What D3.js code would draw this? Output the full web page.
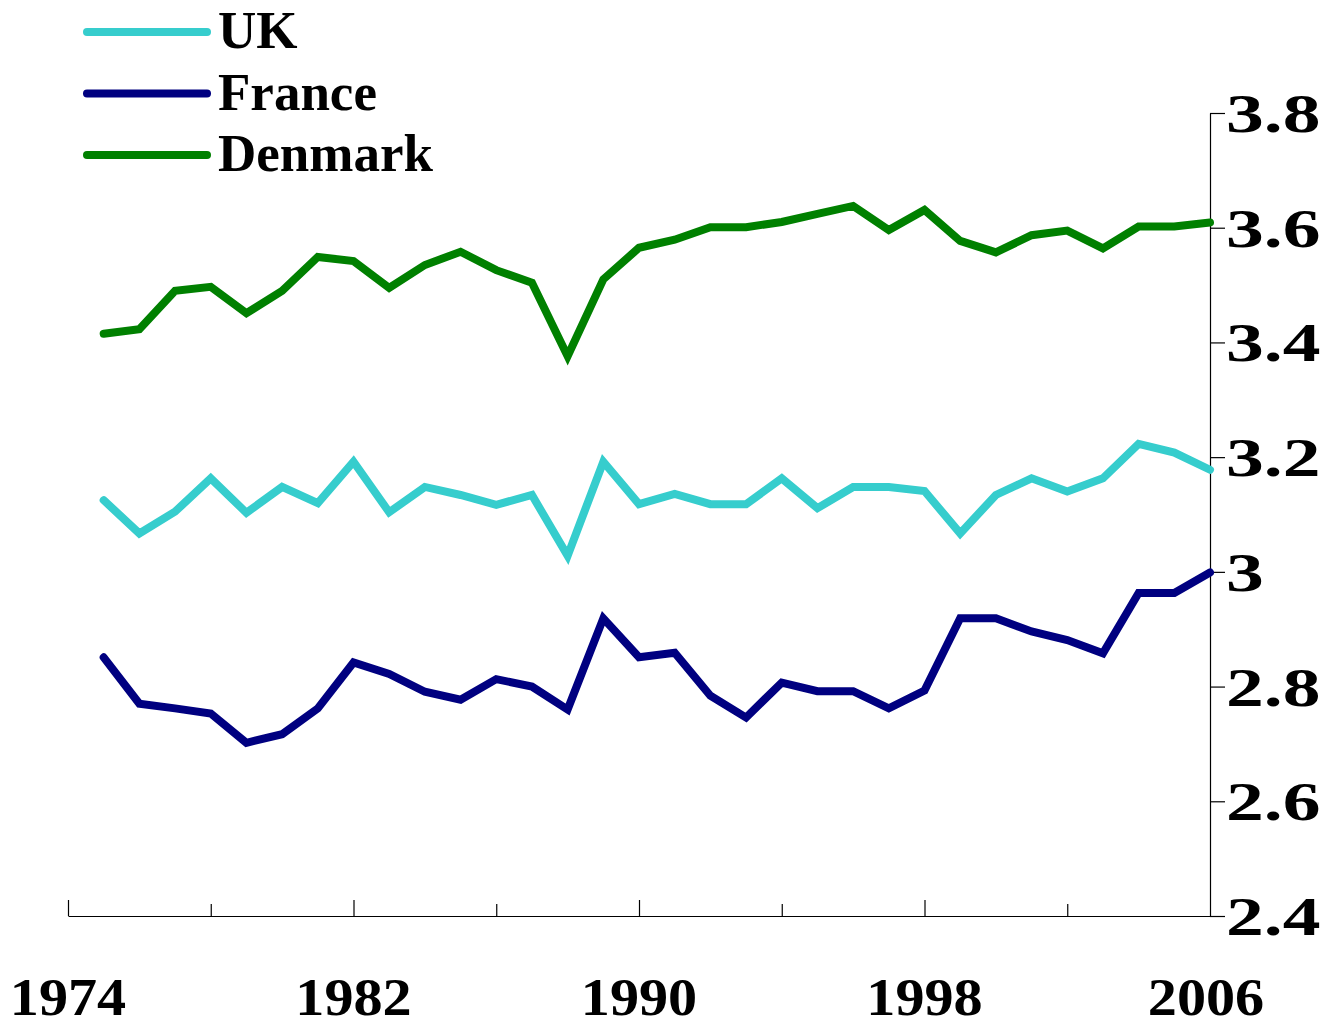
<!DOCTYPE html>
<html>
<head>
    <title>UK, France, Denmark 1975-2006</title>
    <script src="https://d3js.org/d3.v7.min.js"></script>
    <style>
        body {
            margin: 0;
            padding: 0;
            background: #fff;
        }
        svg text {
            font-family: "Liberation Serif", "Times New Roman", serif;
            font-weight: bold;
            fill: #000;
        }
    </style>
</head>
<body>
    <div id="chart"></div>

    <script>
        // Data
        const years = d3.range(1975, 2007);

        const ukValues = [3.125, 3.067, 3.105, 3.163, 3.103, 3.148, 3.120, 3.192, 3.104, 3.148,
            3.134, 3.117, 3.134, 3.028, 3.192, 3.118, 3.136, 3.118, 3.118, 3.163,
            3.111, 3.148, 3.148, 3.141, 3.067, 3.134, 3.163, 3.140, 3.163, 3.223,
            3.208, 3.178];

        const franceValues = [2.851, 2.770, 2.762, 2.753, 2.702, 2.717, 2.762, 2.842, 2.822, 2.791,
            2.777, 2.813, 2.800, 2.760, 2.919, 2.851, 2.859, 2.784, 2.746, 2.807,
            2.792, 2.792, 2.762, 2.793, 2.919, 2.919, 2.896, 2.881, 2.858, 2.963,
            2.963, 2.999];

        const denmarkValues = [3.415, 3.423, 3.490, 3.497, 3.451, 3.490, 3.549, 3.542, 3.495, 3.535,
            3.558, 3.526, 3.504, 3.376, 3.510, 3.565, 3.579, 3.601, 3.601, 3.610,
            3.624, 3.638, 3.596, 3.631, 3.577, 3.557, 3.587, 3.595, 3.564, 3.602,
            3.602, 3.609];

        const seriesNames = ["UK", "France", "Denmark"];
        const seriesColors = ["#36cdcd", "#000080", "#008000"];

        const yTicks = [2.4, 2.6, 2.8, 3.0, 3.2, 3.4, 3.6, 3.8];
        const yTickLabels = ["2.4", "2.6", "2.8", "3", "3.2", "3.4", "3.6", "3.8"];
        const xMajorTicks = [1974, 1982, 1990, 1998, 2006];
        const xMinorTicks = [1978, 1986, 1994, 2002];

        const series = [ukValues, franceValues, denmarkValues].map((vals, i) => ({
            name: seriesNames[i],
            color: seriesColors[i],
            values: vals.map((v, j) => ({year: years[j], value: v}))
        }));

        const width = 1330;
        const height = 1027;

        const svg = d3.select('#chart')
            .append('svg')
            .attr('width', width)
            .attr('height', height);

        const x = d3.scaleLinear().domain([1974, 2006]).range([68, 1210]);
        const y = d3.scaleLinear().domain([2.4, 3.8]).range([916, 113]);

        // x axis: ticks point up, labels drawn far below
        svg.append('g')
            .attr('transform', `translate(0,${y(2.4)})`)
            .call(d3.axisTop(x).tickValues(xMajorTicks.slice(0, -1)).tickSize(16).tickSizeOuter(0).tickFormat(''))
            .call(g => g.selectAll('line, path').attr('stroke', '#000').attr('stroke-width', 1.2));

        svg.append('g')
            .attr('transform', `translate(0,${y(2.4)})`)
            .call(d3.axisTop(x).tickValues(xMinorTicks).tickSize(12).tickSizeOuter(0).tickFormat(''))
            .call(g => g.select('.domain').remove())
            .call(g => g.selectAll('line').attr('stroke', '#000').attr('stroke-width', 1.2));

        svg.append('g')
            .selectAll('text')
            .data(xMajorTicks)
            .join('text')
            .attr('transform', d => `translate(${x(d) - (d === 2006 ? 4 : 0)},1015) scale(1.12,1)`)
            .attr('text-anchor', 'middle')
            .style('font-size', '52px')
            .text(d => d);

        // y axis on the right
        svg.append('g')
            .attr('transform', `translate(${x(2006)},0)`)
            .call(d3.axisRight(y).tickValues(yTicks).tickSize(15).tickSizeOuter(0).tickFormat(''))
            .call(g => g.selectAll('line, path').attr('stroke', '#000').attr('stroke-width', 1.2));

        svg.append('g')
            .selectAll('text')
            .data(yTicks)
            .join('text')
            .attr('transform', d => `translate(1226,${y(d) + 19}) scale(1.4,1)`)
            .style('font-size', '54px')
            .text((d, i) => yTickLabels[i]);

        // lines
        const line = d3.line()
            .x(d => x(d.year))
            .y(d => y(d.value));

        svg.append('g')
            .selectAll('path')
            .data(series)
            .join('path')
            .attr('fill', 'none')
            .attr('stroke', d => d.color)
            .attr('stroke-width', 8)
            .attr('stroke-linejoin', 'miter')
            .attr('stroke-linecap', 'round')
            .attr('d', d => line(d.values));

        // legend
        const legend = svg.append('g')
            .selectAll('g')
            .data(series)
            .join('g')
            .attr('transform', (d, i) => `translate(0,${32 + i * 61.5})`);

        legend.append('line')
            .attr('x1', 87)
            .attr('x2', 207)
            .attr('stroke', d => d.color)
            .attr('stroke-width', 8)
            .attr('stroke-linecap', 'round');

        legend.append('text')
            .attr('x', 218)
            .attr('y', 16)
            .style('font-size', '53px')
            .text(d => d.name);
    </script>
</body>
</html>
